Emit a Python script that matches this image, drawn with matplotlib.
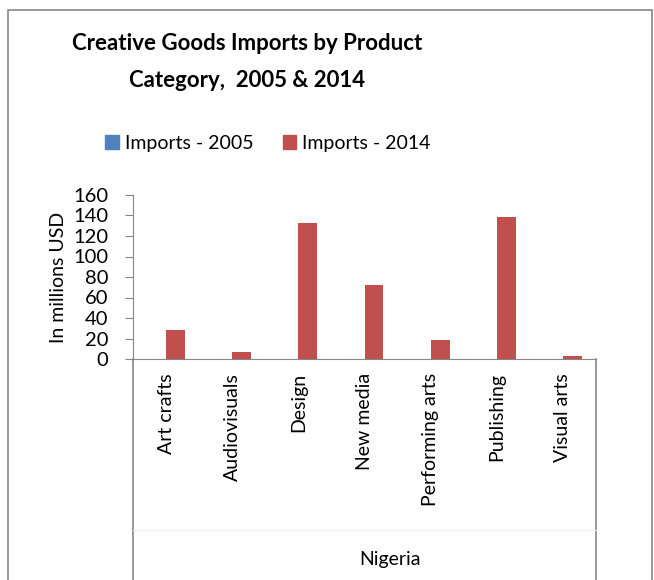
import matplotlib.pyplot as plt
import numpy as np
from matplotlib.lines import Line2D
from matplotlib.patches import Rectangle, Patch

plt.rcParams['font.family'] = ['Lato', 'DejaVu Sans']

categories = ['Art crafts', 'Audiovisuals', 'Design', 'New media',
              'Performing arts', 'Publishing', 'Visual arts']
imports_2005 = [0, 0, 0, 0, 0, 0, 0]
imports_2014 = [28.5, 7.2, 132.3, 71.8, 18.5, 138.2, 3.3]
yticks = [0, 20, 40, 60, 80, 100, 120, 140, 160]

W, H = 654, 580
fig = plt.figure(figsize=(W / 100, H / 100), dpi=100)

# plot area in pixel coords
x0, x1, ytop, ybot = 133, 596, 195, 359
ax = fig.add_axes([x0 / W, 1 - ybot / H, (x1 - x0) / W, (ybot - ytop) / H])

grey = '#868686'
blue = '#4F81BD'
red = '#C0504D'
bw = 0.286
x = np.arange(len(categories))
ax.bar(x - bw / 2, imports_2005, width=bw, color=blue)
ax.bar(x + bw / 2, imports_2014, width=bw, color=red)

ax.set_xlim(-0.5, len(categories) - 0.5)
ax.set_ylim(0, 160)
ax.set_yticks(yticks)
ax.tick_params(axis='y', direction='out', length=6, color=grey, labelsize=14.5, pad=12)
ax.set_xticks(x)
ax.set_xticklabels(categories, rotation=90, fontsize=14, va='top')
ax.tick_params(axis='x', length=0, pad=10)
for s in ['top', 'right']:
    ax.spines[s].set_visible(False)
for s in ['left', 'bottom']:
    ax.spines[s].set_color(grey)
ax.set_ylabel('In millions USD', fontsize=14, labelpad=4)

# multi-level category axis boundaries
for px in (x0, x1):
    fig.add_artist(Line2D([px / W, px / W], [1 - ybot / H, 0], color=grey, lw=1.2))
fig.add_artist(Line2D([x0 / W, x1 / W], [1 - 530 / H, 1 - 530 / H], color='#ececec', lw=0.8))
fig.text(390 / W, 1 - 560 / H, 'Nigeria', fontsize=14, ha='center', va='center')

# title
fig.text(247 / W, 1 - 44 / H, 'Creative Goods Imports by Product', fontsize=16,
         fontweight='bold', ha='center', va='center')
fig.text(247 / W, 1 - 80 / H, 'Category,  2005 & 2014', fontsize=16,
         fontweight='bold', ha='center', va='center')

# legend
handles = [Patch(color=blue), Patch(color=red)]
fig.legend(handles, ['Imports - 2005', 'Imports - 2014'], loc='center',
           bbox_to_anchor=(268 / W, 1 - 143 / H), ncol=2, frameon=False,
           fontsize=14, handlelength=0.7, handleheight=0.7, handletextpad=0.3,
           columnspacing=1.5)

# chart border
fig.add_artist(Rectangle((8 / W, -0.05), (W - 10) / W, 1.05 - 10 / H,
                         transform=fig.transFigure, fill=False, edgecolor=grey, lw=1.2))

fig.savefig('out.png', dpi=100)
